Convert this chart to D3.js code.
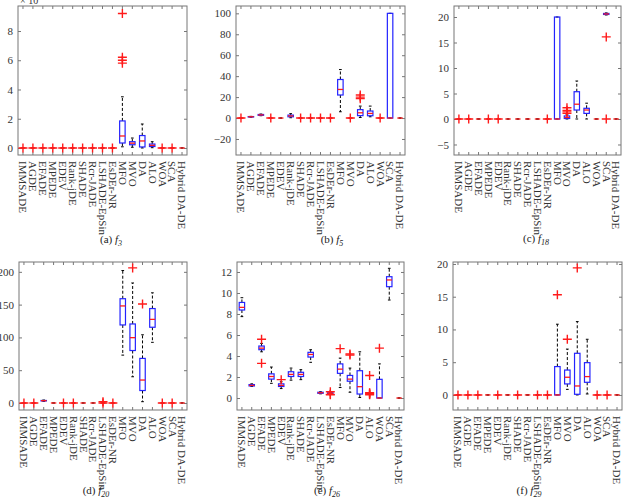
<!DOCTYPE html>
<html lang="en">
<head>
<meta charset="UTF-8">
<title>Boxplots f3 - f29</title>
<script src="https://cdn.jsdelivr.net/npm/d3@7"></script>
<style>
    body { margin: 0; background: #fff; }
    svg { font-family: "Liberation Serif", "Times New Roman", serif; }
    .frame { fill: none; stroke: #777; stroke-width: 1; }
    .axis path { display: none; }
    .axis line { stroke: #777; }
    .axis text { fill: #333; font-size: 11px; font-family: "Liberation Serif", serif; }
    .caption { fill: #222; font-size: 11px; }
</style>
</head>
<body>
<svg id="canvas" width="625" height="498"></svg>
<script>
    const cats = ["IMMSADE", "AGDE", "EFADE", "MPEDE", "EDEV", "Rank-jDE", "SHADE", "Rcr-JADE",
        "LSHADE-EpSin", "EsDEr-NR", "MFO", "MVO", "DA", "ALO", "WOA", "SCA", "Hybrid DA-DE"];

    // each row: [lower whisker, q1, median, q3, upper whisker]
    const Z = [0, 0, 0, 0, 0];

    const f3Box = [Z, Z, Z, Z, Z, Z, Z, Z, Z, Z,
        [0.08, 0.34, 0.82, 1.85, 3.5], [0.05, 0.22, 0.33, 0.43, 0.68], [0, 0.07, 0.48, 0.85, 1.64],
        [0.02, 0.1, 0.18, 0.27, 0.43], Z, Z, Z];
    const f3Out = [[0], [0], [0], [0], [0], [0], [0], [0], [0], [0],
        [5.8, 6.0, 6.2, 9.2], [], [], [], [0], [0], []];
    const f3Ticks = [0, 2, 4, 6, 8];

    const f5Box = [Z, [0.8, 1.0, 1.2, 1.4, 1.6], [2.2, 2.6, 3.0, 3.4, 3.8], Z, Z,
        [0.3, 1.2, 2.0, 2.8, 4.2], Z, Z, Z, Z,
        [6, 22, 27.3, 36.8, 46.3], Z, [0.5, 2.3, 5, 8, 11.4], [1.2, 2.2, 4.4, 6.7, 11.4],
        Z, [0, 0, 0, 100, 100], Z];
    const f5Out = [[0], [], [], [0], [], [], [0], [0], [0], [0],
        [], [0], [18.5, 20, 22], [], [0], [], []];
    const f5Ticks = [-20, 0, 20, 40, 60, 80, 100];

    const f18Box = [Z, Z, Z, Z, Z, Z, Z, Z, Z, Z,
        [0, 0, 0, 20, 20], [0, 0.1, 0.3, 0.6, 0.9], [0, 1.76, 2.9, 5.35, 7.45], [0, 1.1, 1.76, 2.1, 3.1],
        Z, [20.4, 20.5, 20.6, 20.7, 20.8], Z];
    const f18Out = [[0], [0], [], [0], [0], [], [], [], [], [0],
        [], [1.1, 1.4, 1.7, 2.2], [], [], [], [16.1, 0], []];
    const f18Ticks = [-5, 0, 5, 10, 15, 20];

    const f20Box = [Z, Z, [2.5, 3.2, 3.5, 3.8, 4.5], Z, Z, Z, Z, Z, Z, Z,
        [73, 119, 148, 159, 202], [40, 80, 99.6, 120.5, 183], [2, 19, 35, 68, 104],
        [92.5, 115.5, 127.5, 144, 168], Z, Z, Z];
    const f20Out = [[0], [0], [], [], [0], [0], [], [], [0, 2], [0],
        [], [206], [151], [], [0], [0], []];
    const f20Ticks = [0, 50, 100, 150, 200];

    const f26Box = [[7.75, 8.38, 8.63, 9.1, 9.55], [1.1, 1.15, 1.2, 1.28, 1.35], [4.4, 4.6, 4.75, 4.95, 5.2],
        [1.4, 1.8, 2.05, 2.3, 2.95], [0.9, 1.1, 1.2, 1.35, 1.55], [1.7, 2.05, 2.25, 2.5, 2.85],
        [1.75, 2.05, 2.25, 2.45, 2.7], [3.4, 3.9, 4.15, 4.35, 4.6], [0.4, 0.45, 0.5, 0.55, 0.6],
        [0.38, 0.42, 0.45, 0.5, 0.55], [1.0, 2.35, 2.75, 3.25, 3.8], [0.55, 1.6, 1.8, 2.15, 2.85],
        [0.05, 0.38, 1.08, 2.6, 4.4], [0.35, 0.38, 0.42, 0.46, 0.5], [0, 0, 0, 1.78, 3.25],
        [9.33, 10.6, 11.24, 11.55, 12.35], Z];
    const f26Out = [[], [], [5.6, 3.3], [], [1.75], [], [], [], [], [0.3, 0.6, 0.35],
        [4.7], [4.1, 4.2], [], [0.3, 0.35, 0.45, 0.5, 2.15], [4.75], [], []];
    const f26Ticks = [0, 2, 4, 6, 8, 10, 12];

    const f29Box = [Z, Z, Z, Z, Z, Z, Z, Z, Z, Z,
        [0, 0, 0, 4.33, 10.8], [0.85, 1.68, 2.7, 3.8, 7.0], [0, 0.1, 1.37, 6.36, 11.2],
        [0.15, 1.93, 2.8, 4.93, 8.5], Z, Z, Z];
    const f29Out = [[0], [0], [0], [], [0], [], [0], [], [0], [0],
        [15.3], [8.5], [19.4], [], [0], [0], []];
    const f29Ticks = [0, 5, 10, 15, 20];

    const panels = [
        {tag: "(a) ", fn: "3",  box: f3Box,  out: f3Out,  ticks: f3Ticks,  x0: 18,  x1: 187, y0: 6,   y1: 155, dom: [-0.48, 9.71],  capX: 111, capY: 243},
        {tag: "(b) ", fn: "5",  box: f5Box,  out: f5Out,  ticks: f5Ticks,  x0: 236, x1: 405, y0: 6,   y1: 155, dom: [-35.3, 107],   capX: 332, capY: 243},
        {tag: "(c) ", fn: "18", box: f18Box, out: f18Out, ticks: f18Ticks, x0: 454, x1: 621, y0: 6,   y1: 155, dom: [-7.06, 22.16], capX: 536, capY: 242},
        {tag: "(d) ", fn: "20", box: f20Box, out: f20Out, ticks: f20Ticks, x0: 19,  x1: 187, y0: 262, y1: 410, dom: [-10.7, 215],   capX: 96,  capY: 494},
        {tag: "(e) ", fn: "26", box: f26Box, out: f26Out, ticks: f26Ticks, x0: 237, x1: 404, y0: 262, y1: 410, dom: [-1.14, 12.95], capX: 327, capY: 494},
        {tag: "(f) ", fn: "29", box: f29Box, out: f29Out, ticks: f29Ticks, x0: 453, x1: 622, y0: 262, y1: 410, dom: [-2.3, 20.3],   capX: 529, capY: 494}
    ];

    const svg = d3.select("#canvas");

    panels.forEach(function (p, pi) {
        const x = d3.scaleBand().domain(cats).range([p.x0, p.x1]);
        const y = d3.scaleLinear().domain(p.dom).range([p.y1, p.y0]);
        const bw = x.bandwidth() * 0.55;
        const g = svg.append("g");

        // axes, ticks drawn inward
        g.append("g").attr("class", "axis").attr("transform", `translate(${p.x0},0)`)
            .call(d3.axisLeft(y).tickValues(p.ticks).tickSize(-3).tickPadding(5));
        g.append("g").attr("class", "axis").attr("transform", `translate(${p.x1},0)`)
            .call(d3.axisRight(y).tickValues(p.ticks).tickSize(-3).tickFormat(""));
        g.append("g").attr("class", "axis").attr("transform", `translate(0,${p.y0})`)
            .call(d3.axisTop(x).tickSize(-3).tickFormat(""));
        const xa = g.append("g").attr("class", "axis").attr("transform", `translate(0,${p.y1})`)
            .call(d3.axisBottom(x).tickSize(-3).tickPadding(0));
        xa.selectAll("text")
            .attr("transform", "rotate(90)")
            .attr("x", 6).attr("y", 0).attr("dy", "0.33em")
            .style("text-anchor", "start");

        g.append("rect").attr("class", "frame")
            .attr("x", p.x0).attr("y", p.y0)
            .attr("width", p.x1 - p.x0).attr("height", p.y1 - p.y0);

        const items = g.selectAll("g.item").data(cats).enter().append("g").attr("class", "item");
        const cx = c => x(c) + x.bandwidth() / 2;

        // whiskers
        items.each(function (c, i) {
            const s = p.box[i], gg = d3.select(this), mx = cx(c);
            gg.append("line").attr("x1", mx).attr("x2", mx).attr("y1", y(s[3])).attr("y2", y(s[4]))
                .attr("stroke", "#000").attr("stroke-width", 1).attr("stroke-dasharray", "3,2");
            gg.append("line").attr("x1", mx).attr("x2", mx).attr("y1", y(s[1])).attr("y2", y(s[0]))
                .attr("stroke", "#000").attr("stroke-width", 1).attr("stroke-dasharray", "3,2");
            [s[0], s[4]].forEach(v => {
                gg.append("line").attr("x1", mx - bw / 4).attr("x2", mx + bw / 4)
                    .attr("y1", y(v)).attr("y2", y(v)).attr("stroke", "#000").attr("stroke-width", 1);
            });
            gg.append("rect").attr("x", mx - bw / 2).attr("y", y(s[3]))
                .attr("width", bw).attr("height", Math.max(0, y(s[1]) - y(s[3])))
                .attr("fill", "none").attr("stroke", "#2323ff").attr("stroke-width", 1.2);
            gg.append("line").attr("x1", mx - bw / 2).attr("x2", mx + bw / 2)
                .attr("y1", y(s[2])).attr("y2", y(s[2]))
                .attr("stroke", "#ff1a1a").attr("stroke-width", 1.3);
            p.out[i].forEach(v => {
                const yy = y(v);
                gg.append("path").attr("d", `M${mx - 4.5},${yy}h9M${mx},${yy - 4.5}v9`)
                    .attr("stroke", "#ff1a1a").attr("stroke-width", 1.4).attr("fill", "none");
            });
        });

        const cap = svg.append("text").attr("class", "caption")
            .attr("x", p.capX).attr("y", p.capY).attr("text-anchor", "middle");
        cap.append("tspan").text(p.tag);
        cap.append("tspan").attr("font-style", "italic").text("f");
        cap.append("tspan").attr("font-style", "italic").attr("font-size", "8px")
            .attr("dy", "3").text(p.fn);

        if (pi === 0) {
            svg.append("text").attr("x", p.x0 + 2).attr("y", 4)
                .attr("font-size", "10px").attr("fill", "#333").text("\u00d7 10");
        }
    });
</script>
</body>
</html>
